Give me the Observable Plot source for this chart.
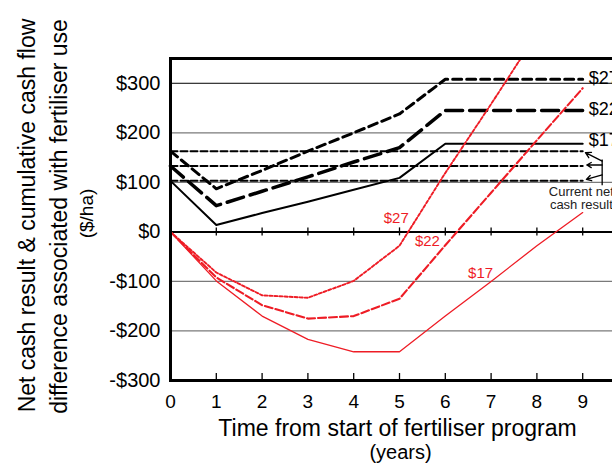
<!DOCTYPE html>
<html>
<head>
<meta charset="utf-8">
<script src="https://cdn.jsdelivr.net/npm/d3@7"></script>
<script src="https://cdn.jsdelivr.net/npm/@observablehq/plot@0.6"></script>
<style>
  html, body { margin: 0; padding: 0; background: #fff; overflow: hidden; }
  #chart { width: 612px; height: 465px; overflow: hidden; }
  #chart svg { max-width: none !important; width: 650px; height: 465px; }
</style>
</head>
<body>
<div id="chart"></div>
<script>
// ---- data ----
const years = [0, 1, 2, 3, 4, 5, 6, 7, 8, 9];
const yTicks = [-300, -200, -100, 0, 100, 200, 300];
const gridGray = [200, 100, -100, -200];
const gridBlack = [300];

// Net cash result (black lines) for fertiliser program at $27, $22, $17
const net27 = [163, 87, 124, 163, 200, 238, 308, 308, 308, 308];
const net22 = [133, 53, 82, 111, 141, 170, 245, 245, 245, 245];
const net17 = [103, 14, 38, 61, 85, 109, 178, 178, 178, 178];

// Current net cash result (horizontal dashed)
const currentNet = [163, 133, 103];
const currentSpan = [0, 9];

// Cumulative cash flow difference (red lines)
const cash27 = [0, -82, -128, -133, -99, -28, 119, 258, 400];
const cash22 = [0, -92, -148, -175, -170, -135, -27, 79, 185, 290];
const cash17 = [0, -99, -170, -217, -242, -242, -170, -100, -28, 39];

// labels
const redLabels = [
  {x: 4.93, y: 28, text: "$27"},
  {x: 5.61, y: -18, text: "$22"},
  {x: 6.77, y: -83, text: "$17"}
];
const blackLabels = [
  {x: 9.13, y: 311, text: "$27"},
  {x: 9.13, y: 247, text: "$22"},
  {x: 9.13, y: 184, text: "$17"}
];
const noteLabel = [{x: 8.97, y: 68, text: "Current net\ncash result"}];
const noteArrows = [
  {x1: 9.425, y1: 143, x2: 9.06, y2: 160},
  {x1: 9.425, y1: 135, x2: 9.09, y2: 135},
  {x1: 9.425, y1: 115, x2: 9.08, y2: 106}
];
const noteStem = [{x: 9.425, y1: 145, y2: 93}];

const yLabel1 = "Net cash result & cumulative cash flow";
const yLabel2 = "difference associated with fertiliser use";
const yLabel3 = "($/ha)";
const xLabel1 = "Time from start of fertiliser program";
const xLabel2 = "(years)";

// ---- build tables ----
const series = (vals) => vals.map((v, i) => ({x: years[i], y: v}));
const hLines = currentNet.flatMap((v, k) => currentSpan.map(x => ({x, y: v, k})));

const RED = "#ee1c25";
const fmt = d => d < 0 ? "-$" + (-d) : "$" + d;

const chart = Plot.plot({
  width: 650,
  height: 465,
  marginTop: 58,
  marginBottom: 85,
  marginLeft: 170,
  marginRight: 22,
  style: {fontFamily: "'Liberation Sans', Arial, sans-serif", background: "white", color: "black", overflow: "visible", maxWidth: "none"},
  x: {domain: [0, 10]},
  y: {domain: [-300, 350]},
  marks: [
    Plot.ruleY(gridGray, {stroke: "#7a7a7a", strokeWidth: 1.3}),
    Plot.ruleY(gridBlack, {stroke: "black", strokeWidth: 1}),
    Plot.ruleY([0], {stroke: "black", strokeWidth: 2}),
    Plot.ruleX(years.slice(1), {x: d => d, y1: 0, y2: 0, insetTop: -4, insetBottom: -4, stroke: "black", strokeWidth: 1.3}),
    Plot.ruleX(years.slice(1), {x: d => d, y1: -300, y2: -300, insetTop: -7, stroke: "black", strokeWidth: 1.3}),
    // current net cash result
    Plot.line(hLines, {x: "x", y: "y", z: "k", stroke: "black", strokeWidth: 2, strokeDasharray: "7,3"}),
    // black net cash results
    Plot.line(series(net17), {x: "x", y: "y", stroke: "black", strokeWidth: 2}),
    Plot.line(series(net22), {x: "x", y: "y", stroke: "black", strokeWidth: 3.5, strokeDasharray: "17,7"}),
    Plot.line(series(net27), {x: "x", y: "y", stroke: "black", strokeWidth: 3, strokeDasharray: "9,5"}),
    // red cumulative cash flow
    Plot.line(series(cash17), {x: "x", y: "y", stroke: RED, strokeWidth: 1.3, clip: true}),
    Plot.line(series(cash22), {x: "x", y: "y", stroke: RED, strokeWidth: 2.1, strokeDasharray: "8,3", clip: true}),
    Plot.line(series(cash27), {x: "x", y: "y", stroke: RED, strokeWidth: 1.9, strokeDasharray: "3,2", clip: true}),
    // labels
    Plot.text(redLabels, {x: "x", y: "y", text: "text", fill: RED, fontSize: 15}),
    Plot.text(blackLabels, {x: "x", y: "y", text: "text", fill: "black", fontSize: 18, textAnchor: "start"}),
    Plot.text(noteLabel, {x: "x", y: "y", text: "text", fill: "#222", fontSize: 13, lineHeight: 1.0}),
    Plot.ruleX(noteStem, {x: "x", y1: "y1", y2: "y2", stroke: "black", strokeWidth: 1.3}),
    Plot.arrow(noteArrows, {x1: "x1", y1: "y1", x2: "x2", y2: "y2", stroke: "black", strokeWidth: 1.3, headLength: 7}),
    Plot.frame({stroke: "black", strokeWidth: 3}),
    // axes
    Plot.axisY({ticks: yTicks, tickSize: 0, tickPadding: 10, tickFormat: fmt, fontSize: 20, label: null}),
    Plot.axisX({ticks: years, tickSize: 0, tickPadding: 14, tickFormat: d => String(d), fontSize: 19, label: null}),
    // axis titles
    Plot.text([yLabel1], {frameAnchor: "left", textAnchor: "middle", rotate: -90, dx: -143, dy: -4, fontSize: 23, lineAnchor: "middle", fill: "black"}),
    Plot.text([yLabel2], {frameAnchor: "left", textAnchor: "middle", rotate: -90, dx: -111, dy: -3, fontSize: 23, lineAnchor: "middle", fill: "black"}),
    Plot.text([yLabel3], {frameAnchor: "left", textAnchor: "middle", rotate: -90, dx: -84, dy: -6, fontSize: 19, lineAnchor: "middle", fill: "black"}),
    Plot.text([xLabel1], {frameAnchor: "bottom", textAnchor: "middle", dx: -2, dy: 48.5, fontSize: 23, lineAnchor: "middle", fill: "black"}),
    Plot.text([xLabel2], {frameAnchor: "bottom", textAnchor: "middle", dx: 1, dy: 72, fontSize: 20, lineAnchor: "middle", fill: "black"})
  ]
});
document.getElementById("chart").appendChild(chart);
</script>
</body>
</html>
